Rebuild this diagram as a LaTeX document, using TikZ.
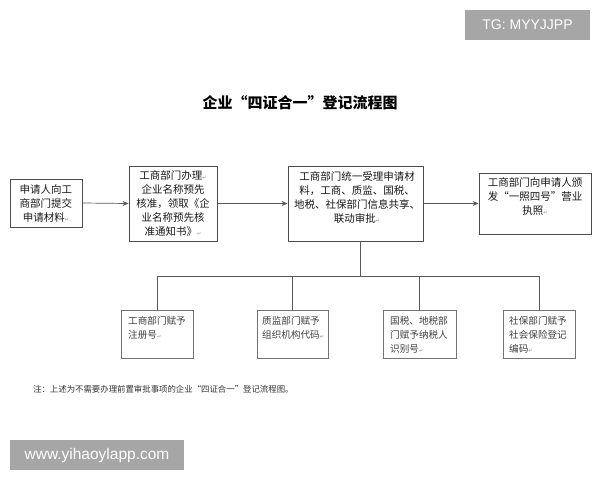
\documentclass[tikz,border=0pt]{standalone}
\usepackage{fontspec}
\setmainfont{Noto Sans CJK SC}
\newfontfamily\latinsans{Liberation Sans}
\newfontfamily\dejavu{DejaVu Sans}
\usetikzlibrary{arrows.meta}
\newcommand\retmark{{\dejavu\fontsize{5}{5}\selectfont\color{black!45}↵}}
\tikzset{
  bigbox/.style={draw=black!70, line width=0.9pt, fill=white, inner sep=0pt},
  smallbox/.style={draw=black!55, line width=0.8pt, fill=white, inner sep=0pt},
  boxtext/.style={inner sep=0pt, align=center, font=\fontsize{10.5}{14}\selectfont, text=black!90},
  smalltext/.style={inner sep=0pt, align=left, font=\fontsize{9.6}{14}\selectfont, text=black!75},
  conn/.style={draw=black!65, line width=0.7pt},
  arr/.style={conn, -{Stealth[length=6pt,width=5pt]}},
  wmark/.style={fill=black!35, text=white, inner sep=0pt, font=\latinsans}
}
\begin{document}
\begin{tikzpicture}[x=1pt,y=-1pt]
\useasboundingbox (0,0) rectangle (600,480);
\fill[white] (0,0) rectangle (600,480);
% watermarks
\node[wmark, minimum width=125pt, minimum height=30pt, font=\latinsans\fontsize{14}{14}\selectfont] (tg) at (527.5,25) {TG: MYYJJPP};
\node[wmark, minimum width=174pt, minimum height=30pt, font=\latinsans\fontsize{15.5}{15.5}\selectfont] (www) at (97,455) {www.yihaoylapp.com};
% title
\node[inner sep=0pt, font=\bfseries\fontsize{15}{15}\selectfont] (title) at (300,103) {企业“四证合一”登记流程图};
% top boxes
\node[bigbox, minimum width=72pt, minimum height=48pt] (b1) at (46,203) {};
\node[bigbox, minimum width=88pt, minimum height=75pt] (b2) at (173,203.5) {};
\node[bigbox, minimum width=135pt, minimum height=75pt] (b3) at (355.5,203.5) {};
\node[bigbox, minimum width=112pt, minimum height=61pt] (b4) at (535,203.5) {};
\node[boxtext] (t1) at (46,203.5) {申请人向工\\商部门提交\\申请材料\retmark};
\node[boxtext] (t2) at (173,203.5) {工商部门办理\retmark\\企业名称预先\\核准，领取《企\\业名称预先核\\准通知书》\retmark};
\node[boxtext] (t3) at (357,197.5) {工商部门统一受理申请材\\料，工商、质监、国税、\\地税、社保部门信息共享、\\联动审批\retmark};
\node[boxtext] (t4) at (535,197) {工商部门向申请人颁\\发“一照四号”营业\\执照\retmark};
\draw[arr] (b1.east) -- (b2.west);
\draw[arr] (b2.east) -- (b3.west);
\draw[arr] (b3.east) -- (b4.west);
% bottom boxes
\node[smallbox, minimum width=72pt, minimum height=48pt] (c1) at (157,334) {};
\node[smallbox, minimum width=71pt, minimum height=48pt] (c2) at (292.5,334) {};
\node[smallbox, minimum width=73pt, minimum height=48pt] (c3) at (419.5,334) {};
\node[smallbox, minimum width=72pt, minimum height=48pt] (c4) at (539,334) {};
\node[smalltext, anchor=north west] (s1) at (128,316) {工商部门赋予\\注册号\retmark};
\node[smalltext, anchor=north west] (s2) at (262,316) {质监部门赋予\\组织机构代码\retmark};
\node[smalltext, anchor=north west] (s3) at (390,316) {国税、地税部\\门赋予纳税人\\识别号\retmark};
\node[smalltext, anchor=north west] (s4) at (509,316) {社保部门赋予\\社会保险登记\\编码\retmark};
% tree connectors
\coordinate (hub) at (360,276);
\draw[conn] (b3.south -| hub) -- (hub);
\draw[conn] (hub -| c1.north) -- (hub -| c4.north);
\draw[conn] (hub -| c1.north) -- (c1.north);
\draw[conn] (hub -| c2.north) -- (c2.north);
\draw[conn] (hub -| c3.north) -- (c3.north);
\draw[conn] (hub -| c4.north) -- (c4.north);
% note
\node[inner sep=0pt, anchor=west, font=\fontsize{8.4}{10}\selectfont, text=black!80] (note) at (33,389) {注：上述为不需要办理前置审批事项的企业“四证合一”登记流程图。};
\end{tikzpicture}
\end{document}
